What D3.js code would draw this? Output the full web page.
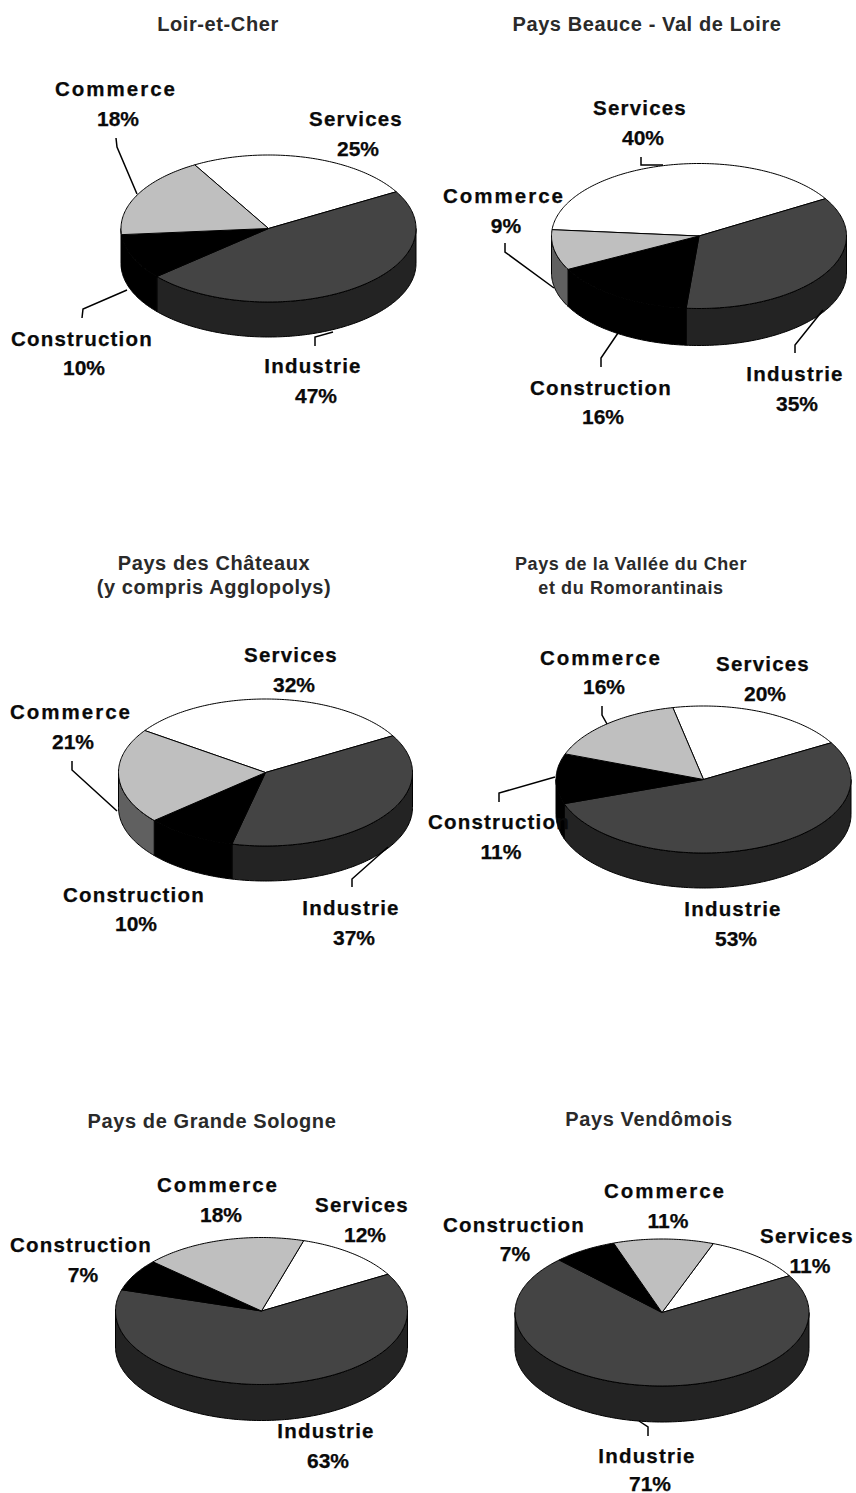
<!DOCTYPE html>
<html><head><meta charset="utf-8">
<script src="https://cdn.jsdelivr.net/npm/d3@7"></script>
<style>
html,body{margin:0;padding:0;background:#fff}
svg{display:block}
text{font-family:"Liberation Sans",Arial,sans-serif;font-weight:bold;text-anchor:middle}
</style></head><body>
<script>
// ---- data ----
const categories = ["Services", "Industrie", "Construction", "Commerce"];
const titles = [
  ["Loir-et-Cher"],
  ["Pays Beauce - Val de Loire"],
  ["Pays des Châteaux", "(y compris Agglopolys)"],
  ["Pays de la Vallée du Cher", "et du Romorantinais"],
  ["Pays de Grande Sologne"],
  ["Pays Vendômois"]
];
const loirEtCher   = [25, 47, 10, 18];
const beauce       = [40, 35, 16, 9];
const chateaux     = [32, 37, 10, 21];
const valleeCher   = [20, 53, 11, 16];
const grandeSologne= [12, 63, 7, 18];
const vendomois    = [11, 71, 7, 11];
const seriesValues = [loirEtCher, beauce, chateaux, valleeCher, grandeSologne, vendomois];

// ---- layout (not data) ----
const W = 856, H = 1493;
const topColor  = ["#ffffff", "#444444", "#000000", "#bfbfbf"];
const sideColor = ["#ffffff", "#232323", "#000000", "#606060"];
const nameSpacing = [1.2, 1.2, 1.2, 2.0];
const titleSize = [20, 20, 20, 18, 20, 20];
const pieBox = [
  {cx:268.5, cy:228.5, rx:147.5, ry:73.5, depth:35, turn:60},
  {cx:699, cy:236, rx:147.5, ry:72.5, depth:37, turn:59},
  {cx:265.5, cy:772.5, rx:147, ry:73.5, depth:35, turn:60},
  {cx:703.5, cy:779.5, rx:147.5, ry:73.5, depth:35, turn:60},
  {cx:261.5, cy:1311, rx:146, ry:73.5, depth:36, turn:60},
  {cx:662, cy:1312.5, rx:147, ry:73.5, depth:36, turn:60}
];
const titlePos = [
  [[218,31]], [[647,31]],
  [[214,570],[214,594]], [[631,570],[631,594]],
  [[212,1128]], [[649,1126]]
];
// [name x, name baseline, pct x, pct baseline] by category order
const labelPos = [
  [[356,126,358,156],[313,373,316,403],[82,346,84,375],[116,96,118,126]],
  [[640,115,643,145],[795,381,797,411],[601,395,603,424],[504,203,506,233]],
  [[291,662,294,692],[351,915,354,945],[134,902,136,931],[71,719,73,749]],
  [[763,671,765,701],[733,916,736,946],[499,829,501,859],[601,665,604,694]],
  [[362,1212,365,1242],[326,1438,328,1468],[81,1252,83,1282],[218,1192,221,1222]],
  [[807,1243,810,1273],[647,1463,650,1491],[514,1232,515,1261],[665,1198,668,1228]]
];
const leaders = [
  [[[116,138],[117,147],[137,194]], [[82,318],[83,309],[127,290]], [[315,346],[315,337],[333,332]]],
  [[[641,157],[641,165],[663,165]], [[505,243],[505,252],[554,288]], [[601,367],[601,358],[618,333]], [[795,353],[795,345],[823,310]]],
  [[[72,761],[72,770],[117,811]], [[352,887],[352,879],[388,847]]],
  [[[602,706],[602,715],[607,724]], [[499,802],[499,793],[555,777]]],
  [],
  [[[648,1436],[648,1427],[639,1421]]]
];

const svg = d3.select("body").append("svg").attr("width", W).attr("height", H);
const rad = Math.PI / 180;
const line = d3.line();

seriesValues.forEach((vals, i) => {
  const b = pieBox[i];
  const total = d3.sum(vals);
  const start = b.turn * rad - (vals[0] / total) * 2 * Math.PI;
  const arcs = d3.pie().sort(null).startAngle(start).endAngle(start + 2 * Math.PI)(vals);
  const proj = (a, dz = 0) => [b.cx + b.rx * Math.sin(a), b.cy - b.ry * Math.cos(a) + dz];
  const rim = (a0, a1, dz = 0) => {
    const n = Math.max(2, Math.ceil((a1 - a0) / (1 * rad)));
    return d3.range(n + 1).map(k => proj(a0 + (a1 - a0) * k / n, dz));
  };
  const g = svg.append("g");

  // side walls: only the part of the rim facing the viewer
  arcs.forEach(d => {
    const a0 = Math.max(d.startAngle, 90 * rad), a1 = Math.min(d.endAngle, 270 * rad);
    if (a1 <= a0) return;
    const pts = rim(a0, a1).concat(rim(a0, a1, b.depth).reverse());
    g.append("path").attr("d", line(pts) + "Z")
      .attr("fill", sideColor[d.index]).attr("stroke", "#000").attr("stroke-width", 1);
  });
  // top faces
  arcs.forEach(d => {
    const pts = [[b.cx, b.cy]].concat(rim(d.startAngle, d.endAngle));
    g.append("path").attr("d", line(pts) + "Z")
      .attr("fill", topColor[d.index]).attr("stroke", "#000").attr("stroke-width", 1);
  });
  // leader lines
  leaders[i].forEach(l => {
    g.append("path").attr("d", line(l)).attr("fill", "none")
      .attr("stroke", "#000").attr("stroke-width", 1.5);
  });
  // labels
  categories.forEach((c, k) => {
    const p = labelPos[i][k];
    g.append("text").attr("x", p[0]).attr("y", p[1]).attr("font-size", 20.5)
      .attr("letter-spacing", nameSpacing[k]).attr("fill", "#0a0a0a")
      .attr("stroke", "#0a0a0a").attr("stroke-width", 0.25).text(c);
    g.append("text").attr("x", p[2]).attr("y", p[3]).attr("font-size", 21)
      .attr("fill", "#0a0a0a").attr("stroke", "#0a0a0a").attr("stroke-width", 0.25)
      .text(vals[k] + "%");
  });
  // titles
  titles[i].forEach((t, k) => {
    g.append("text").attr("x", titlePos[i][k][0]).attr("y", titlePos[i][k][1])
      .attr("font-size", titleSize[i]).attr("letter-spacing", 0.6).attr("fill", "#2a2a2a").text(t);
  });
});
</script>
</body></html>
